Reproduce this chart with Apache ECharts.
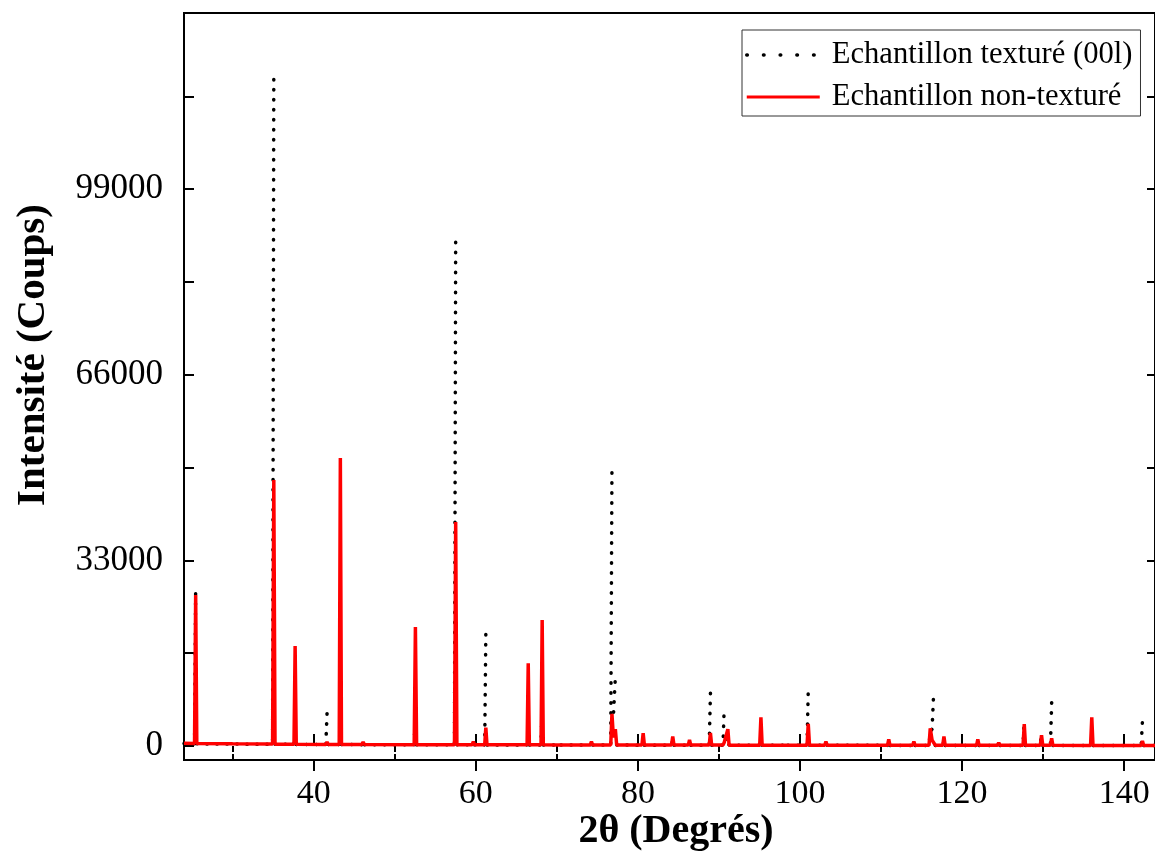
<!DOCTYPE html>
<html>
<head>
<meta charset="utf-8">
<script src="https://cdn.jsdelivr.net/npm/echarts@6/dist/echarts.min.js"></script>
<style>html,body{margin:0;padding:0;background:#fff;}#c{width:1155px;height:854px;}</style>
</head>
<body>
<div id="c"></div>
<script>
// ---- Data (2θ in degrees, counts) ----
const seriesNames = ['Echantillon texturé (00l)', 'Echantillon non-texturé'];

// Non-textured sample (red)
const redTheta = [24.0,
  25.3,25.44,25.58, 30.0,
  34.93,35.08,35.23, 37.57,37.71,37.85, 41.5,41.65,41.8,
  43.15,43.29,43.43, 45.95,46.1,46.25, 52.4,52.55,52.7,
  57.37,57.52,57.67, 59.55,59.7,59.85, 61.1,61.24,61.38,
  66.33,66.47,66.61, 68.05,68.19,68.33, 70.2,70.35,70.5,
  74.12,74.27,74.42, 76.65,76.8,76.98,77.22,77.38,
  80.5,80.65,80.8, 84.15,84.3,84.45, 86.22,86.37,86.52,
  88.8,88.95,89.1, 90.5,90.65,90.85,91.1,91.25,
  95.03,95.18,95.33, 98.2,98.35,98.5, 100.87,101.02,101.17,
  103.05,103.2,103.35, 110.8,110.95,111.1, 113.9,114.05,114.2,
  115.92,116.07,116.3,116.5,116.7, 117.61,117.76,117.91,
  121.79,121.94,122.09, 124.37,124.52,124.67, 127.52,127.67,127.82,
  129.65,129.8,129.95, 130.9,131.05,131.2, 135.85,136.0,136.15,
  140.85,141.0,141.15, 142.1,142.25,142.4, 143.8];
const redCounts = [480,
  450,26840,430, 380,
  330,47280,320, 300,17770,300, 270,700,270,
  260,51190,260, 250,700,250, 230,21150,230,
  220,39810,220, 210,760,210, 200,3250,200,
  190,14700,190, 190,22400,190, 180,400,180,
  170,760,170, 170,5690,1500,2970,170,
  160,2250,160, 150,1660,150, 150,1070,150,
  150,2300,150, 150,600,400,2970,140,
  140,5100,140, 130,480,130, 130,3910,130,
  130,770,130, 120,1190,120, 120,770,120,
  120,3140,1000,1300,120, 120,1660,120,
  110,1190,110, 110,590,110, 110,3900,110,
  110,1900,110, 110,1370,110, 100,5100,100,
  100,360,100, 100,890,100, 100];

// Textured sample (00l) (black dotted). null = no segment drawn (trace resumes at next point)
const blackTheta = [24.0,
  25.3,25.44,25.44,25.58, 30.0,
  34.93,35.08,35.08,35.23, 37.57,37.71,37.71,37.85, 41.5,41.65,41.65,41.8,
  43.15,43.29,43.29,43.43, 45.95,46.1,46.1,46.25, 52.4,52.55,52.55,52.7,
  57.37,57.52,57.52,57.67, 59.55,59.7,59.7,59.85, 61.1,61.24,61.24,61.38,
  66.33,66.47,66.47,66.61, 68.05,68.19,68.19,68.33, 70.2,70.35,70.35,70.5,
  74.12,74.27,74.27,74.42, 76.65,76.8,76.8,77.0,77.22,77.22,77.4,
  80.5,80.65,80.65,80.8, 84.15,84.3,84.3,84.45, 86.22,86.37,86.37,86.52,
  88.8,88.95,88.95,89.1, 90.5,90.65,90.65,90.85,91.1,91.25,
  95.03,95.18,95.18,95.33, 98.2,98.35,98.35,98.5, 100.87,101.02,101.02,101.17,
  103.05,103.2,103.2,103.35, 110.8,110.95,110.95,111.1, 113.9,114.05,114.05,114.2,
  115.92,116.07,116.3,116.5,116.5,116.7, 117.61,117.76,117.76,117.91,
  121.79,121.94,121.94,122.09, 124.37,124.52,124.52,124.67, 127.52,127.67,127.67,127.82,
  129.65,129.8,129.8,129.95, 130.9,131.05,131.05,131.2, 135.85,136.0,136.0,136.15,
  140.85,141.0,141.0,141.15, 142.1,142.25,142.25,142.4, 143.8];
const blackCounts = [420,
  400,28080,null,380, 330,
  300,120150,null,290, 270,3000,null,270, 250,5870,null,250,
  240,2500,null,240, 230,400,null,230, 210,6000,null,210,
  200,90470,null,200, 190,400,null,190, 180,20100,null,180,
  170,2000,null,170, 170,7000,null,170, 160,300,null,160,
  150,500,null,150, 150,49770,null,6000,12210,null,150,
  140,1500,null,140, 130,1000,null,130, 130,600,null,130,
  130,9370,null,130, 130,6850,null,1200,1500,120,
  120,1500,null,120, 110,300,null,110, 110,9950,null,110,
  110,500,null,110, 100,700,null,100, 100,500,null,100,
  100,2500,3000,9800,null,100, 100,800,null,100,
  90,700,null,90, 90,400,null,90, 90,4800,null,90,
  90,2700,null,90, 90,7700,null,90, 80,1500,null,80,
  80,300,null,80, 80,4400,null,80, 80];

// Axis ticks / labels
const xLabelValues = [40, 60, 80, 100, 120, 140];
const xMajorTicks = [40, 60, 80, 100, 120, 140];
const xMinorTicks = [30, 50, 70, 90, 110, 130];
const yLabelValues = [0, 33000, 66000, 99000];
const yTickValues = [0, 16500, 33000, 49500, 66000, 82500, 99000, 115500];

const xTitle = '2θ (Degrés)';
const yTitle = 'Intensité (Coups)';

// ---- Chart ----
const FONT = '"Liberation Serif", "Times New Roman", serif';
const chart = echarts.init(document.getElementById('c'), null, {renderer: 'canvas'});

const xRange = {min: 24, max: 143.8};
const yRange = {min: -2500, max: 130300};

function xAxisBase(extra) {
  return Object.assign({
    type: 'value', min: xRange.min, max: xRange.max, position: 'bottom', gridIndex: 0,
    splitLine: {show: false}, axisLine: {show: false}, axisLabel: {show: false}
  }, extra);
}
const tickStyle = {color: '#000', width: 2};
const hiddenSymbol = {opacity: 0, borderWidth: 0};

const option = {
  backgroundColor: '#fff',
  animation: false,
  textStyle: {fontFamily: FONT, color: '#000'},
  grid: {left: 184, top: 13, right: -2, bottom: 94, show: true, borderColor: '#000', borderWidth: 2, backgroundColor: 'transparent'},
  legend: {
    orient: 'vertical', left: 742, top: 30, padding: [9, 8, 3, 3], itemGap: 10,
    itemWidth: 73, itemHeight: 14, borderColor: '#333', borderWidth: 1, backgroundColor: '#fff',
    selectedMode: false,
    itemStyle: hiddenSymbol,
    textStyle: {fontFamily: FONT, fontSize: 30.6, lineHeight: 32, color: '#000', padding: [0, 0, 0, 7]},
    data: [
      {name: seriesNames[0], itemStyle: hiddenSymbol, lineStyle: {color: '#000', width: 3.5, type: [0.6, 16.1], cap: 'round'}},
      {name: seriesNames[1], itemStyle: hiddenSymbol, lineStyle: {color: '#ff0000', width: 3}}
    ]
  },
  xAxis: [
    xAxisBase({
      axisLine: {show: true, onZero: false, lineStyle: {color: '#000', width: 2}},
      axisTick: {show: true, inside: false, length: 11, customValues: xMajorTicks, lineStyle: tickStyle},
      axisLabel: {show: true, customValues: xLabelValues, fontFamily: FONT, fontSize: 34, color: '#000', margin: 17}
    }),
    xAxisBase({axisTick: {show: true, inside: true, length: 12, customValues: xMajorTicks, lineStyle: tickStyle}}),
    xAxisBase({axisTick: {show: true, inside: false, length: 6, customValues: xMinorTicks, lineStyle: tickStyle}}),
    xAxisBase({axisTick: {show: true, inside: true, length: 6, customValues: xMinorTicks, lineStyle: tickStyle}})
  ],
  yAxis: [
    {
      type: 'value', min: yRange.min, max: yRange.max, position: 'left',
      splitLine: {show: false},
      axisLine: {show: true, onZero: false, lineStyle: {color: '#000', width: 2}},
      axisTick: {show: true, inside: true, length: 10, customValues: yTickValues, lineStyle: tickStyle},
      axisLabel: {show: true, customValues: yLabelValues, formatter: v => String(v), fontFamily: FONT, fontSize: 35, color: '#000', margin: 21}
    },
    {
      type: 'value', min: yRange.min, max: yRange.max, position: 'right',
      splitLine: {show: false}, axisLine: {show: false}, axisLabel: {show: false},
      axisTick: {show: true, inside: true, length: 8, customValues: yTickValues, lineStyle: tickStyle}
    }
  ],
  graphic: [
    {type: 'text', x: 676, y: 832, style: {text: xTitle, font: 'bold 40px ' + FONT, fill: '#000', align: 'center', verticalAlign: 'middle'}},
    {type: 'text', x: 33, y: 355, rotation: Math.PI / 2, style: {text: yTitle, font: 'bold 41px ' + FONT, fill: '#000', align: 'center', verticalAlign: 'middle'}}
  ],
  series: [
    {
      name: seriesNames[0], type: 'line', xAxisIndex: 0, yAxisIndex: 0,
      symbol: 'none', showSymbol: false, z: 2, connectNulls: false,
      lineStyle: {color: '#000', width: 3.5, type: [0.5, 9.5], cap: 'round'},
      itemStyle: {color: '#000'},
      data: blackTheta.map((t, i) => [t, blackCounts[i] === null ? null : blackCounts[i]])
    },
    {
      name: seriesNames[1], type: 'line', xAxisIndex: 0, yAxisIndex: 0,
      symbol: 'none', showSymbol: false, z: 3,
      lineStyle: {color: '#ff0000', width: 3.5},
      itemStyle: {color: '#ff0000'},
      data: redTheta.map((t, i) => [t, redCounts[i]])
    }
  ]
};
chart.setOption(option);
</script>
</body>
</html>
